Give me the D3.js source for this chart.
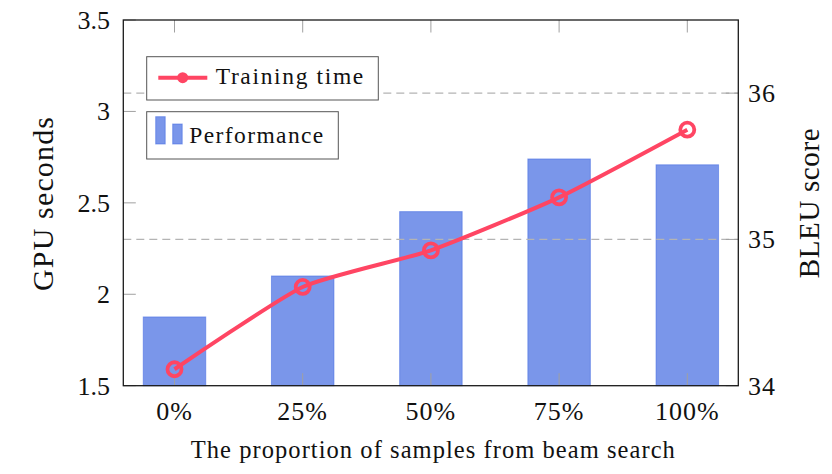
<!DOCTYPE html>
<html><head><meta charset="utf-8">
<script src="https://cdn.jsdelivr.net/npm/d3@7"></script>
<style>body{margin:0;background:#fff}svg text{font-family:"Liberation Serif","Times New Roman",serif;fill:#111}</style>
</head><body><svg id="c" width="832" height="474"></svg>
<script>
const categories = ["0%","25%","50%","75%","100%"];
const trainingTime = [1.59, 2.04, 2.24, 2.53, 2.90];   // GPU seconds (left axis)
const bleuScore = [34.47, 34.75, 35.19, 35.55, 35.51]; // BLEU (right axis)
const leftTicks = [1.5, 2, 2.5, 3, 3.5];
const rightTicks = [34, 35, 36];
const gridValues = [35, 36];

const svg = d3.select("#c");
const L = 123.3, R = 738.3, T = 20, B = 385.7;
const x = d3.scalePoint().domain(categories).range([174.5, 687.3]);
const yL = d3.scaleLinear().domain([1.5, 3.5]).range([B, T]);
const yR = d3.scaleLinear().domain([34, 36.5]).range([B, T]);
const barW = 62.5;
const tickLen = 12.5;
const tickColor = "#a0a0a0";

// bars
svg.append("g").selectAll("rect").data(categories).join("rect")
  .attr("x", d => x(d) - barW/2).attr("width", barW)
  .attr("y", (d,i) => yR(bleuScore[i])).attr("height", (d,i) => B - yR(bleuScore[i]))
  .attr("fill", "#4169e1").attr("fill-opacity", 0.7)
  .attr("stroke", "#4169e1").attr("stroke-opacity", 0.55).attr("stroke-width", 1);

// grid lines (dashed) from right axis
svg.append("g").selectAll("line").data(gridValues).join("line")
  .attr("x1", L).attr("x2", R).attr("y1", d => yR(d)).attr("y2", d => yR(d))
  .attr("stroke", "#b4b4b4").attr("stroke-width", 1.2).attr("stroke-dasharray", "8,5");

// tick marks
const tg = svg.append("g").attr("stroke", tickColor).attr("stroke-width", 1);
leftTicks.forEach(v => tg.append("line").attr("x1", L).attr("x2", L + tickLen).attr("y1", yL(v)).attr("y2", yL(v)));
rightTicks.forEach(v => tg.append("line").attr("x1", R).attr("x2", R - tickLen).attr("y1", yR(v)).attr("y2", yR(v)));
categories.forEach(c => {
  tg.append("line").attr("x1", x(c)).attr("x2", x(c)).attr("y1", B).attr("y2", B - tickLen);
  tg.append("line").attr("x1", x(c)).attr("x2", x(c)).attr("y1", T).attr("y2", T + tickLen);
});

// frame
svg.append("rect").attr("x", L).attr("y", T).attr("width", R - L).attr("height", B - T)
  .attr("fill", "none").attr("stroke", "#1a1a1a").attr("stroke-width", 1.3);

// line
const line = d3.line().x((d,i) => x(categories[i])).y(d => yL(d)).curve(d3.curveCardinal.tension(0.45));
const lineColor = "#ff4563";
svg.append("path").datum(trainingTime).attr("d", line)
  .attr("fill", "none").attr("stroke", lineColor).attr("stroke-width", 4).attr("stroke-linejoin", "round");
svg.append("g").selectAll("circle").data(trainingTime).join("circle")
  .attr("cx", (d,i) => x(categories[i])).attr("cy", d => yL(d)).attr("r", 7)
  .attr("fill", "none").attr("stroke", lineColor).attr("stroke-width", 3.8);

// tick labels
const fs = 26;
svg.append("g").selectAll("text").data(leftTicks).join("text")
  .attr("x", 110).attr("y", d => yL(d)).attr("dy", "0.34em").attr("text-anchor", "end")
  .attr("font-size", fs).text(d => d);
svg.append("g").selectAll("text").data(rightTicks).join("text")
  .attr("x", 748).attr("y", d => yR(d)).attr("dy", "0.34em").attr("text-anchor", "start")
  .attr("font-size", fs).attr("letter-spacing", 1).text(d => d);
svg.append("g").selectAll("text").data(categories).join("text")
  .attr("x", d => x(d)).attr("y", 420).attr("text-anchor", "middle")
  .attr("font-size", fs).attr("letter-spacing", 1).text(d => d);

// axis titles
svg.append("text").attr("x", 432.8).attr("y", 458).attr("text-anchor", "middle")
  .attr("font-size", 24.5).attr("textLength", 484).attr("lengthAdjust", "spacing")
  .text("The proportion of samples from beam search");
svg.append("text").attr("transform", "translate(52.5,204) rotate(-90)").attr("text-anchor", "middle")
  .attr("font-size", 30).attr("textLength", 174).attr("lengthAdjust", "spacing").text("GPU seconds");
svg.append("text").attr("transform", "translate(818.5,203.3) rotate(-90)").attr("text-anchor", "middle")
  .attr("font-size", 29).attr("textLength", 150).attr("lengthAdjust", "spacing").text("BLEU score");

// legends
const lg1 = svg.append("g");
lg1.append("rect").attr("x", 146.7).attr("y", 56.7).attr("width", 231.6).attr("height", 43.3)
  .attr("fill", "#fff").attr("stroke", "#555").attr("stroke-width", 1);
lg1.append("line").attr("x1", 158.3).attr("x2", 207.3).attr("y1", 77.7).attr("y2", 77.7)
  .attr("stroke", lineColor).attr("stroke-width", 4);
lg1.append("circle").attr("cx", 182.7).attr("cy", 77.7).attr("r", 5.5).attr("fill", lineColor);
lg1.append("text").attr("x", 215.7).attr("y", 83.5).attr("font-size", 23.5)
  .attr("textLength", 147.6).attr("lengthAdjust", "spacing").text("Training time");

const lg2 = svg.append("g");
lg2.append("rect").attr("x", 146.7).attr("y", 111.7).attr("width", 191.6).attr("height", 47.3)
  .attr("fill", "#fff").attr("stroke", "#555").attr("stroke-width", 1);
[[155.7,116.7],[172.7,124]].forEach(([bx,by]) => lg2.append("rect")
  .attr("x", bx).attr("y", by).attr("width", 9.5).attr("height", 144 - by)
  .attr("fill", "#4169e1").attr("fill-opacity", 0.7).attr("stroke", "#4169e1").attr("stroke-opacity", 0.55));
lg2.append("text").attr("x", 189.3).attr("y", 143).attr("font-size", 23.5)
  .attr("textLength", 134).attr("lengthAdjust", "spacing").text("Performance");
</script></body></html>
